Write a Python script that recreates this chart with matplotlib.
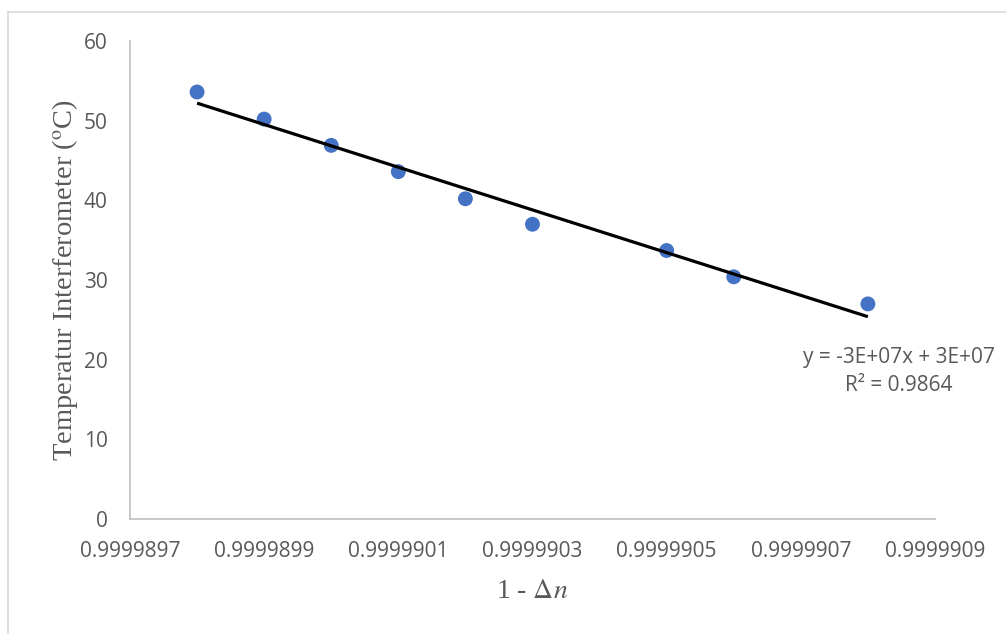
import numpy as np
import matplotlib
matplotlib.use("Agg")
import matplotlib.pyplot as plt
from matplotlib.lines import Line2D
from matplotlib.ticker import FormatStrFormatter

plt.rcParams["mathtext.fontset"] = "stix"

# 1 - delta n vs interferometer temperature
one_minus_dn = [0.9999898, 0.9999899, 0.9999900, 0.9999901, 0.9999902,
                0.9999903, 0.9999905, 0.9999906, 0.9999908]
temperature = [53.6, 50.2, 46.9, 43.6, 40.2, 37.0, 33.7, 30.4, 27.0]
x_ticks = [0.9999897, 0.9999899, 0.9999901, 0.9999903,
           0.9999905, 0.9999907, 0.9999909]
y_ticks = [0, 10, 20, 30, 40, 50, 60]
eq_text = "y = -3E+07x + 3E+07"
r2_text = "R² = 0.9864"

x = np.array(one_minus_dn)
y = np.array(temperature)
x0 = x.mean()
slope, icept = np.polyfit(x - x0, y, 1)
xl = np.array([x.min(), x.max()])
yl = slope * (xl - x0) + icept

GRAY = "#595959"
AXIS = "#bfbfbf"

fig = plt.figure(figsize=(10.06, 6.34), dpi=100)
ax = fig.add_axes([0.1292, 0.1814, 0.8002, 0.7539])

ax.plot(xl, yl, color="black", linewidth=2.3, solid_capstyle="butt", zorder=3)
ax.scatter(x, y, s=115, color="#4472C4", edgecolors="none", zorder=2)

ax.set_xlim(x_ticks[0], x_ticks[-1])
ax.set_ylim(y_ticks[0], y_ticks[-1])
ax.set_xticks(x_ticks)
ax.set_yticks(y_ticks)
ax.xaxis.set_major_formatter(FormatStrFormatter("%.7f"))

for side in ["top", "right"]:
    ax.spines[side].set_visible(False)
for side in ["left", "bottom"]:
    ax.spines[side].set_color(AXIS)
    ax.spines[side].set_linewidth(1.2)

ax.tick_params(length=0, labelsize=15, labelcolor=GRAY)
for lab in ax.get_xticklabels() + ax.get_yticklabels():
    lab.set_family("Open Sans")
ax.tick_params(axis="x", pad=16)
ax.tick_params(axis="y", pad=16)

ax.set_xlabel(r"1 - $\Delta n$", fontsize=20, color=GRAY,
              family="Liberation Serif", labelpad=12)
ax.set_ylabel(r"Temperatur Interferometer ($^{\mathrm{o}}$C)", fontsize=20.5,
              color=GRAY, family="Liberation Serif", labelpad=3)

ax.text(0.9999908 + 0.000000046, 18.5, eq_text + "\n" + r2_text,
        ha="center", va="center", fontsize=15, color=GRAY,
        family="Open Sans", linespacing=1.45, multialignment="center")

# outer chart border (top and left visible)
fig.add_artist(Line2D([8 / 1006, 1], [1 - 12 / 634, 1 - 12 / 634],
                      transform=fig.transFigure, color="#d9d9d9", linewidth=1.2))
fig.add_artist(Line2D([8 / 1006, 8 / 1006], [0, 1 - 12 / 634],
                      transform=fig.transFigure, color="#d9d9d9", linewidth=1.2))

fig.savefig("out.png", dpi=100)
